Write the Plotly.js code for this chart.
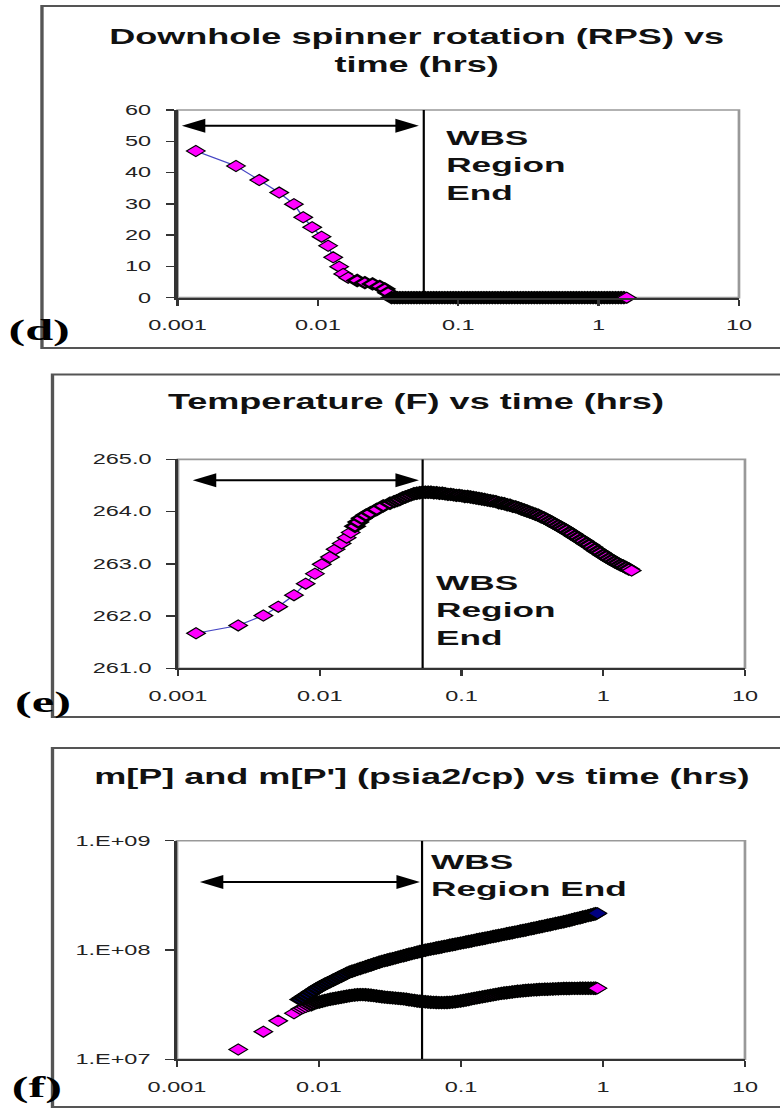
<!DOCTYPE html>
<html><head><meta charset="utf-8">
<script src="https://cdn.plot.ly/plotly-3.0.1.min.js"></script>
<style>
html,body{margin:0;padding:0;background:#fff;overflow:hidden;}
#wrap{width:465px;height:1109px;transform:scaleX(1.67742);transform-origin:0 0;}
#chart{width:465px;height:1109px;}
</style></head><body>
<div id="wrap"><div id="chart"></div></div>
<script>
// ---------- tick labels ----------
const xTickVals = [0.001, 0.01, 0.1, 1, 10];
const xTickText = ['0.001', '0.01', '0.1', '1', '10'];
const spinTickVals = [0, 10, 20, 30, 40, 50, 60];
const spinTickText = ['0', '10', '20', '30', '40', '50', '60'];
const tempTickVals = [261, 262, 263, 264, 265];
const tempTickText = ['261.0', '262.0', '263.0', '264.0', '265.0'];
const mTickVals = [1e7, 1e8, 1e9];
const mTickText = ['1.E+07', '1.E+08', '1.E+09'];

// ---------- panel texts ----------
const panelTitles = ['Downhole spinner rotation (RPS) vs<br>time (hrs)', 'Temperature (F) vs time (hrs)', "m[P] and m[P'] (psia2/cp) vs time (hrs)"];
const panelLabels = ['(d)', '(e)', '(f)'];
const wbsLabels = ['WBS<br>Region<br>End', 'WBS<br>Region<br>End', 'WBS<br>Region End'];

// ---------- WBS region markers (hrs) ----------
const wbsEnd = [0.0568, 0.0532, 0.0532];
const arrowStart = [0.00103, 0.00122, 0.00139];
const arrowEnd = [0.0524, 0.0501, 0.0514];
const arrowLevel = [55, 264.6, 4.2e8];

// ---------- (d) spinner, early readings ----------
const spinTime = [0.00135, 0.00261, 0.00382, 0.0053, 0.00675, 0.00786, 0.0091, 0.01062, 0.01183, 0.01285, 0.01418, 0.01514, 0.01643, 0.01905, 0.02162, 0.02451, 0.02761, 0.02997, 0.03163];
const spinRps = [46.9, 42.1, 37.6, 33.6, 29.9, 25.7, 22.5, 19.5, 16.6, 12.9, 9.9, 7.6, 6.4, 5.5, 4.8, 4.4, 3.6, 2.8, 1.6];

// ---------- (e) temperature, early readings ----------
const tempTime = [0.00134, 0.00266, 0.004, 0.0051, 0.00658, 0.00796, 0.00925, 0.01032, 0.01181, 0.01294, 0.01428, 0.01549, 0.01653, 0.01774, 0.0187, 0.01977, 0.0212, 0.02287, 0.02521, 0.02806, 0.03131];
const tempF = [261.67, 261.82, 262.01, 262.18, 262.40, 262.62, 262.81, 262.99, 263.13, 263.28, 263.39, 263.50, 263.60, 263.72, 263.80, 263.87, 263.93, 263.98, 264.04, 264.11, 264.16];

// ---------- (d),(e) later readings (shared time stamps) ----------
const lateTime = [0.0335, 0.0351, 0.0367, 0.0384, 0.0402, 0.0421, 0.0441, 0.0462, 0.0484, 0.0507,
  0.0531, 0.0556, 0.0582, 0.0609, 0.0638, 0.0668, 0.0699, 0.0732, 0.0766, 0.0802,
  0.0840, 0.0879, 0.0920, 0.0963, 0.1008, 0.1055, 0.1105, 0.1157, 0.1211, 0.1268,
  0.1328, 0.1390, 0.1455, 0.1524, 0.1595, 0.1670, 0.1749, 0.1831, 0.1917, 0.2007,
  0.2101, 0.2200, 0.2303, 0.2411, 0.2525, 0.2643, 0.2768, 0.2898, 0.3034, 0.3177,
  0.3326, 0.3482, 0.3646, 0.3817, 0.3997, 0.4185, 0.4381, 0.4587, 0.4803, 0.5029,
  0.5265, 0.5512, 0.5771, 0.6043, 0.6327, 0.6624, 0.6936, 0.7262, 0.7603, 0.7960,
  0.8335, 0.8726, 0.9137, 0.9566, 1.0016, 1.0487, 1.0980, 1.1496, 1.2036, 1.2602,
  1.3194, 1.3814, 1.4464, 1.5144, 1.5856];
const lateRps = [0, 0, 0, 0, 0, 0, 0, 0, 0, 0,
  0, 0, 0, 0, 0, 0, 0, 0, 0, 0,
  0, 0, 0, 0, 0, 0, 0, 0, 0, 0,
  0, 0, 0, 0, 0, 0, 0, 0, 0, 0,
  0, 0, 0, 0, 0, 0, 0, 0, 0, 0,
  0, 0, 0, 0, 0, 0, 0, 0, 0, 0,
  0, 0, 0, 0, 0, 0, 0, 0, 0, 0,
  0, 0, 0, 0, 0, 0, 0, 0, 0, 0,
  0, 0, 0, 0, 0];
const lateTempF = [264.19, 264.21, 264.23, 264.26, 264.28, 264.30, 264.32, 264.34, 264.35, 264.36,
  264.37, 264.37, 264.37, 264.37, 264.36, 264.36, 264.35, 264.35, 264.34, 264.33,
  264.33, 264.32, 264.31, 264.31, 264.30, 264.29, 264.29, 264.28, 264.27, 264.26,
  264.25, 264.24, 264.23, 264.22, 264.21, 264.20, 264.19, 264.17, 264.16, 264.15,
  264.13, 264.12, 264.10, 264.09, 264.07, 264.05, 264.03, 264.01, 263.99, 263.97,
  263.95, 263.93, 263.90, 263.88, 263.85, 263.82, 263.79, 263.76, 263.73, 263.70,
  263.67, 263.64, 263.60, 263.57, 263.53, 263.50, 263.46, 263.43, 263.39, 263.36,
  263.32, 263.28, 263.24, 263.21, 263.17, 263.14, 263.10, 263.07, 263.04, 263.01,
  262.98, 262.96, 262.93, 262.90, 262.87];

// ---------- (f) m[P] and m[P'] ----------
const primeEarlyTime = [0.0027, 0.00406, 0.00516, 0.00667];
const primeEarly = [1.23e7, 1.79e7, 2.25e7, 2.64e7];
const fTime = [0.0074, 0.00773, 0.00808, 0.00845, 0.00883, 0.00922, 0.00964, 0.01007, 0.01053, 0.01100,
  0.01150, 0.01201, 0.01255, 0.01312, 0.01371, 0.01433, 0.01497, 0.01564, 0.01635, 0.01708,
  0.01785, 0.01866, 0.01950, 0.02037, 0.02129, 0.02225, 0.02325, 0.02429, 0.02539, 0.02653,
  0.02772, 0.02897, 0.03027, 0.03164, 0.03306, 0.03455, 0.03610, 0.03773, 0.03942, 0.04120,
  0.04305, 0.04499, 0.04701, 0.04913, 0.05134, 0.05365, 0.05606, 0.05859, 0.06122, 0.06398,
  0.06686, 0.06987, 0.07301, 0.07630, 0.07973, 0.08332, 0.08707, 0.09099, 0.09508, 0.09936,
  0.1038, 0.1085, 0.1134, 0.1185, 0.1238, 0.1294, 0.1352, 0.1413, 0.1477, 0.1543,
  0.1613, 0.1685, 0.1761, 0.1840, 0.1923, 0.2010, 0.2100, 0.2195, 0.2293, 0.2397,
  0.2504, 0.2617, 0.2735, 0.2858, 0.2987, 0.3121, 0.3262, 0.3408, 0.3562, 0.3722,
  0.3890, 0.4065, 0.4248, 0.4439, 0.4639, 0.4848, 0.5066, 0.5294, 0.5532, 0.5781,
  0.6041, 0.6313, 0.6597, 0.6894, 0.7204, 0.7529, 0.7867, 0.8221, 0.8591, 0.8870,
  0.914];
const mP = [3.52e7, 3.66e7, 3.80e7, 3.94e7, 4.10e7, 4.25e7, 4.42e7, 4.58e7, 4.72e7, 4.86e7,
  5.00e7, 5.14e7, 5.29e7, 5.44e7, 5.60e7, 5.76e7, 5.93e7, 6.10e7, 6.28e7, 6.40e7,
  6.52e7, 6.65e7, 6.77e7, 6.90e7, 7.03e7, 7.17e7, 7.30e7, 7.44e7, 7.58e7, 7.73e7,
  7.87e7, 7.99e7, 8.11e7, 8.23e7, 8.35e7, 8.48e7, 8.61e7, 8.74e7, 8.87e7, 9.00e7,
  9.14e7, 9.27e7, 9.41e7, 9.55e7, 9.70e7, 9.85e7, 9.96e7, 10.08e7, 10.19e7, 10.31e7,
  10.43e7, 10.55e7, 10.67e7, 10.80e7, 10.92e7, 11.05e7, 11.18e7, 11.31e7, 11.44e7, 11.57e7,
  11.70e7, 11.84e7, 11.98e7, 12.11e7, 12.25e7, 12.40e7, 12.54e7, 12.69e7, 12.83e7, 12.98e7,
  13.13e7, 13.29e7, 13.44e7, 13.60e7, 13.75e7, 13.91e7, 14.08e7, 14.24e7, 14.41e7, 14.57e7,
  14.74e7, 14.91e7, 15.09e7, 15.26e7, 15.45e7, 15.64e7, 15.84e7, 16.03e7, 16.23e7, 16.43e7,
  16.64e7, 16.84e7, 17.05e7, 17.26e7, 17.48e7, 17.70e7, 17.92e7, 18.14e7, 18.38e7, 18.65e7,
  18.92e7, 19.20e7, 19.48e7, 19.76e7, 20.05e7, 20.34e7, 20.64e7, 20.94e7, 21.25e7, 21.48e7,
  21.70e7];
const mPrimeLate = [2.88e7, 2.94e7, 3.01e7, 3.08e7, 3.15e7, 3.23e7, 3.30e7, 3.35e7, 3.40e7, 3.45e7,
  3.50e7, 3.54e7, 3.58e7, 3.62e7, 3.66e7, 3.70e7, 3.74e7, 3.78e7, 3.82e7, 3.85e7,
  3.88e7, 3.90e7, 3.91e7, 3.91e7, 3.90e7, 3.88e7, 3.86e7, 3.83e7, 3.80e7, 3.77e7,
  3.74e7, 3.71e7, 3.69e7, 3.67e7, 3.65e7, 3.63e7, 3.61e7, 3.59e7, 3.57e7, 3.54e7,
  3.51e7, 3.48e7, 3.45e7, 3.42e7, 3.40e7, 3.38e7, 3.36e7, 3.35e7, 3.33e7, 3.32e7,
  3.31e7, 3.30e7, 3.30e7, 3.30e7, 3.31e7, 3.32e7, 3.34e7, 3.36e7, 3.39e7, 3.42e7,
  3.45e7, 3.49e7, 3.53e7, 3.57e7, 3.61e7, 3.65e7, 3.69e7, 3.73e7, 3.77e7, 3.81e7,
  3.85e7, 3.89e7, 3.93e7, 3.97e7, 4.01e7, 4.04e7, 4.07e7, 4.10e7, 4.13e7, 4.16e7,
  4.19e7, 4.21e7, 4.24e7, 4.26e7, 4.28e7, 4.30e7, 4.32e7, 4.33e7, 4.35e7, 4.36e7,
  4.37e7, 4.38e7, 4.39e7, 4.40e7, 4.41e7, 4.42e7, 4.43e7, 4.44e7, 4.45e7, 4.45e7,
  4.46e7, 4.46e7, 4.46e7, 4.47e7, 4.47e7, 4.47e7, 4.47e7, 4.47e7, 4.47e7, 4.47e7,
  4.47e7];

const spinRange = [0, 60];
const tempRange = [261, 265];
const mRange = [1e7, 1e9];

// ---------- styling ----------
const FONT = 'Liberation Sans, Arial, Helvetica, sans-serif';
const SERIF = 'Liberation Serif, Times New Roman, serif';
const SPARSE_EDGE = 1;   // outline of isolated diamonds
const DENSE_EDGE = 2;    // outline where readings crowd together (reads as a black band)
function edges(nSparse, nDense) {
  const w = [];
  for (let i = 0; i < nSparse; i++) w.push(SPARSE_EDGE);
  for (let i = 0; i < nDense; i++) w.push(DENSE_EDGE);
  return w;
}
function diamond(fill, widths) {
  return {symbol: 'diamond', size: 8.5, color: fill, line: {color: '#000', width: widths}};
}
const seriesLine = {color: '#4646c4', width: 1};
const vLine = {color: '#000', width: 1.3};

function lastSparse(widths) { widths[widths.length - 1] = SPARSE_EDGE; return widths; }

function vlineTrace(i, xa, ya, range) {
  return {x: [wbsEnd[i], wbsEnd[i]], y: range, xaxis: xa, yaxis: ya, mode: 'lines', line: vLine, hoverinfo: 'skip'};
}

const traces = [
  vlineTrace(0, 'x', 'y', spinRange),
  {x: spinTime.concat(lateTime), y: spinRps.concat(lateRps), xaxis: 'x', yaxis: 'y', mode: 'lines+markers',
   line: seriesLine, marker: diamond('#ff00ff', lastSparse(edges(spinTime.length - 6, lateTime.length + 6))), cliponaxis: false},
  vlineTrace(1, 'x2', 'y2', tempRange),
  {x: tempTime.concat(lateTime), y: tempF.concat(lateTempF), xaxis: 'x2', yaxis: 'y2', mode: 'lines+markers',
   line: seriesLine, marker: diamond('#ff00ff', lastSparse(edges(tempTime.length - 8, lateTime.length + 8))), cliponaxis: false},
  vlineTrace(2, 'x3', 'y3', mRange),
  {x: fTime, y: mP, xaxis: 'x3', yaxis: 'y3', mode: 'markers',
   marker: diamond('#000080', lastSparse(edges(0, fTime.length))), cliponaxis: false},
  {x: primeEarlyTime.concat(fTime), y: primeEarly.concat(mPrimeLate), xaxis: 'x3', yaxis: 'y3', mode: 'markers',
   marker: diamond('#ff00ff', lastSparse(edges(primeEarlyTime.length + 4, fTime.length - 4))), cliponaxis: false}
];

function xAxis(domain, anchor) {
  return {type: 'log', range: [-3, 1], domain: domain, anchor: anchor,
    tickmode: 'array', tickvals: xTickVals, ticktext: xTickText,
    ticks: 'outside', ticklen: 6, tickwidth: 1.4, tickcolor: '#333',
    showline: true, linecolor: '#333', linewidth: 2, showgrid: false, zeroline: false,
    tickfont: {family: FONT, size: 14, color: '#222'}, ticklabelstandoff: 8, fixedrange: true};
}
function yAxis(domain, anchor, extra) {
  return Object.assign({domain: domain, anchor: anchor, tickmode: 'array',
    ticks: 'outside', ticklen: 5, tickwidth: 1.4, tickcolor: '#333',
    showline: true, linecolor: '#333', linewidth: 2, showgrid: false, zeroline: false,
    tickfont: {family: FONT, size: 14, color: '#222'}, ticklabelstandoff: 6, fixedrange: true}, extra);
}

function bold(s) { return s.split('<br>').map(l => '<b>' + l + '</b>').join('<br>'); }

const titlePos = [[0.5346, 0.954], [0.5333, 0.6378], [0.541, 0.2991]];
const labelPos = [[0.0513, 0.7024], [0.0545, 0.3674], [0.0481, 0.0198]];
const wbsPos = [[0.567, 0.8512], [0.554, 0.4500], [0.548, 0.2110]];
const boxes = [[0.0538, 0.6862, 0.9946], [0.0673, 0.3535, 0.6623], [0.0673, 0.0018, 0.3255]];

const annotations = [];
for (let i = 0; i < 3; i++) {
  annotations.push({xref: 'paper', yref: 'paper', x: titlePos[i][0], y: titlePos[i][1], xanchor: 'center', yanchor: 'middle',
    text: bold(panelTitles[i]), showarrow: false, align: 'center', font: {family: FONT, size: 21.5, color: '#111'}});
  annotations.push({xref: 'paper', yref: 'paper', x: labelPos[i][0], y: labelPos[i][1], xanchor: 'center', yanchor: 'middle',
    text: '<b>' + panelLabels[i] + '</b>', showarrow: false, font: {family: SERIF, size: 30, color: '#000'}});
  annotations.push({xref: 'paper', yref: 'paper', x: wbsPos[i][0], y: wbsPos[i][1], xanchor: 'left', yanchor: 'middle',
    text: bold(wbsLabels[i]), showarrow: false, align: 'left', font: {family: FONT, size: 21, color: '#111'}});
}
const axNames = [['x', 'y', false], ['x2', 'y2', false], ['x3', 'y3', true]];
for (let i = 0; i < 3; i++) {
  const xa = axNames[i][0], ya = axNames[i][1];
  const lvl = axNames[i][2] ? Math.log10(arrowLevel[i]) : arrowLevel[i];
  annotations.push({xref: xa, yref: ya, axref: xa, ayref: ya,
    x: Math.log10(arrowEnd[i]), y: lvl, ax: Math.log10(arrowStart[i]), ay: lvl,
    text: '', showarrow: true, arrowside: 'end+start', arrowhead: 2, startarrowhead: 2,
    arrowsize: 1.4, startarrowsize: 1.4, arrowwidth: 2, arrowcolor: '#000'});
}

const shapes = [];
for (let i = 0; i < 3; i++) {
  shapes.push({type: 'rect', xref: 'paper', yref: 'paper', x0: boxes[i][0], x1: 1.05, y0: boxes[i][1], y1: boxes[i][2],
    line: {color: '#555', width: 2}, fillcolor: 'rgba(0,0,0,0)', layer: 'below'});
  const xa = axNames[i][0], ya = axNames[i][1];
  shapes.push({type: 'rect', xref: xa + ' domain', yref: ya + ' domain', x0: 0, x1: 1, y0: 0, y1: 1,
    line: {color: '#999', width: 1.6}, fillcolor: 'rgba(0,0,0,0)', layer: 'below'});
}

const layout = {
  width: 465, height: 1109, margin: {l: 0, r: 0, t: 0, b: 0},
  paper_bgcolor: '#fff', plot_bgcolor: '#fff', showlegend: false,
  font: {family: FONT, color: '#222'},
  xaxis: xAxis([0.2276, 0.9474], 'y'),
  yaxis: yAxis([0.7316, 0.9008], 'x', {range: spinRange, tickvals: spinTickVals, ticktext: spinTickText}),
  xaxis2: xAxis([0.2282, 0.9551], 'y2'),
  yaxis2: yAxis([0.3974, 0.5858], 'x2', {range: tempRange, tickvals: tempTickVals, ticktext: tempTickText}),
  xaxis3: xAxis([0.2269, 0.9551], 'y3'),
  yaxis3: yAxis([0.0448, 0.2419], 'x3', {type: 'log', range: [7, 9], tickvals: mTickVals, ticktext: mTickText}),
  annotations: annotations,
  shapes: shapes
};

Plotly.newPlot('chart', traces, layout, {staticPlot: true, displayModeBar: false});
</script></body></html>
